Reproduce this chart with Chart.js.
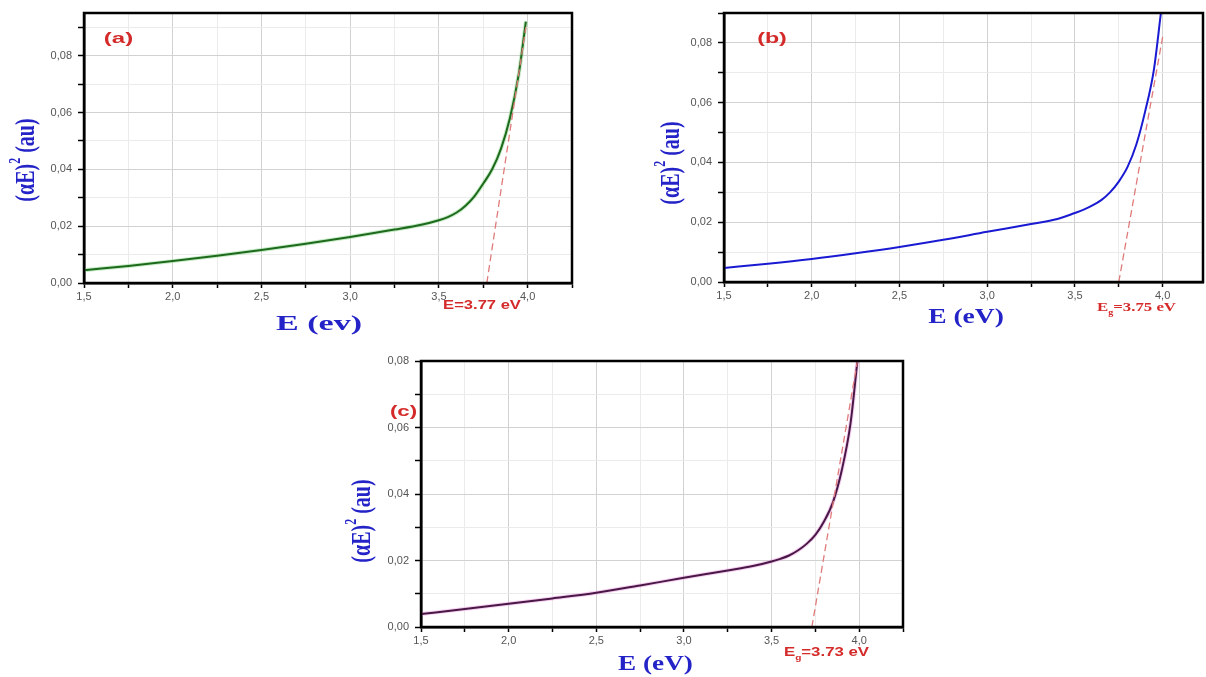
<!DOCTYPE html>
<html>
<head>
<meta charset="utf-8">
<script src="https://cdn.jsdelivr.net/npm/chart.js@4.4.0/dist/chart.umd.min.js"></script>
<style>
  body { margin: 0; background: #fff; width: 1206px; height: 677px; overflow: hidden; position: relative; }
  .panel { position: absolute; }
</style>
</head>
<body>
<div class="panel" style="left:0;top:0;width:600px;height:340px"><canvas id="chartA"></canvas></div>
<div class="panel" style="left:620px;top:0;width:586px;height:340px"><canvas id="chartB"></canvas></div>
<div class="panel" style="left:340px;top:340px;width:600px;height:337px"><canvas id="chartC"></canvas></div>
<script>
// Datos: E (eV) y (alpha E)^2 (u.a.)
const energiaA = [1.5, 1.75, 2.0, 2.25, 2.5, 2.75, 3.0, 3.25, 3.4, 3.5, 3.55, 3.6, 3.65, 3.7, 3.75, 3.8, 3.85, 3.9, 3.95, 3.99];
const alfaA = [0.0045, 0.0060, 0.0077, 0.0096, 0.0116, 0.0138, 0.0162, 0.0188, 0.0205, 0.0221, 0.0232, 0.0248, 0.0272, 0.0305, 0.0350, 0.0400, 0.0473, 0.0580, 0.0735, 0.0920];

const energiaB = [1.5, 1.75, 2.0, 2.25, 2.5, 2.75, 3.0, 3.25, 3.4, 3.5, 3.55, 3.6, 3.65, 3.7, 3.75, 3.8, 3.85, 3.9, 3.95, 3.99];
const alfaB = [0.0047, 0.0061, 0.0077, 0.0096, 0.0117, 0.0141, 0.0168, 0.0194, 0.0211, 0.0231, 0.0242, 0.0256, 0.0274, 0.0300, 0.0336, 0.0385, 0.0460, 0.0570, 0.0710, 0.0900];

const energiaC = [1.5, 1.75, 2.0, 2.25, 2.5, 2.75, 3.0, 3.25, 3.4, 3.5, 3.55, 3.6, 3.65, 3.7, 3.75, 3.8, 3.85, 3.9, 3.95, 3.99];
const alfaC = [0.0039, 0.0054, 0.0070, 0.0086, 0.0103, 0.0125, 0.0148, 0.0170, 0.0184, 0.0197, 0.0205, 0.0215, 0.0230, 0.0250, 0.0277, 0.0318, 0.0375, 0.0470, 0.0610, 0.0800];

// Rectas de extrapolacion (Eg)
const ajusteEA = [3.77, 3.99];
const ajusteYA = [0, 0.090];
const ajusteEB = [3.75, 4.0];
const ajusteYB = [0, 0.082];
const ajusteEC = [3.73, 3.99];
const ajusteYC = [0, 0.080];

// Etiquetas de los ejes
const ejeXValores = [1.5, 2.0, 2.5, 3.0, 3.5, 4.0];
const ejeXEtiquetas = ["1,5", "2,0", "2,5", "3,0", "3,5", "4,0"];
const ejeYValores = [0, 0.02, 0.04, 0.06, 0.08];
const ejeYEtiquetas = ["0,00", "0,02", "0,04", "0,06", "0,08"];

const AZUL = "#2323c8";
const ROJO = "#d42a2a";
const SERIF = "'Liberation Serif', 'DejaVu Serif', serif";
const SANS = "'Liberation Sans', Arial, sans-serif";

function buscar(valor, valores) {
  return valores.findIndex(v => Math.abs(v - valor) < 1e-6);
}

function puntos(xs, ys) {
  return xs.map((x, i) => ({ x: x, y: ys[i] }));
}

function dibujarTexto(ctx, it) {
  ctx.save();
  ctx.translate(it.x, it.y);
  ctx.scale(it.sx || 1, 1);
  if (it.rot) ctx.rotate(-Math.PI / 2);
  ctx.fillStyle = it.color;
  ctx.textBaseline = "alphabetic";
  ctx.textAlign = "left";
  let total = 0;
  const anchos = it.partes.map(p => {
    ctx.font = `bold ${it.size * (p.s || 1)}px ${it.familia}`;
    const w = ctx.measureText(p.t).width;
    total += w;
    return w;
  });
  let x = -total / 2;
  it.partes.forEach((p, i) => {
    ctx.font = `bold ${it.size * (p.s || 1)}px ${it.familia}`;
    ctx.fillText(p.t, x, it.size * 0.35 + (p.dy || 0) * it.size);
    x += anchos[i];
  });
  ctx.restore();
}

function pluginTextos(items) {
  return {
    id: "textos",
    afterDraw(chart) {
      const ctx = chart.ctx;
      const a = chart.chartArea;
      ctx.save();
      ctx.strokeStyle = "#000";
      ctx.lineWidth = 2.5;
      ctx.strokeRect(a.left, a.top, a.right - a.left, a.bottom - a.top);
      ctx.restore();
      items.forEach(it => dibujarTexto(ctx, it));
    }
  };
}

function crearPanel(id, p) {
  const datasets = [];
  if (p.halo) {
    datasets.push({
      data: puntos(p.energia, p.alfa),
      borderColor: p.halo,
      borderWidth: 4,
      pointRadius: 0,
      order: 3,
      cubicInterpolationMode: "monotone"
    });
  }
  datasets.push({
    data: puntos(p.energia, p.alfa),
    borderColor: p.color,
    borderWidth: 2,
    pointRadius: 0,
    order: 2,
    cubicInterpolationMode: "monotone"
  });
  datasets.push({
    data: puntos(p.ajusteE, p.ajusteY),
    borderColor: "#e07b7b",
    borderWidth: 1.3,
    borderDash: [7, 4],
    pointRadius: 0,
    order: 1
  });

  return new Chart(document.getElementById(id), {
    type: "scatter",
    data: { datasets: datasets },
    options: {
      responsive: true,
      maintainAspectRatio: false,
      animation: false,
      showLine: true,
      layout: { padding: p.padding },
      plugins: { legend: { display: false }, tooltip: { enabled: false } },
      scales: {
        x: {
          type: "linear",
          min: 1.5,
          max: p.xMax,
          afterFit: s => { s.height = 40; },
          ticks: {
            stepSize: 0.25,
            autoSkip: false,
            maxRotation: 0,
            includeBounds: false,
            padding: 2,
            color: "#555",
            font: { family: SANS, size: 11 },
            callback: v => { const i = buscar(v, ejeXValores); return i >= 0 ? ejeXEtiquetas[i] : ""; }
          },
          grid: {
            color: c => buscar(c.tick.value, ejeXValores) >= 0 ? "#d2d2d2" : "#ebebeb",
            lineWidth: 1,
            tickLength: 5,
            tickColor: "#000",
            tickWidth: 1.5
          },
          border: { color: "#000", width: 2.5 }
        },
        y: {
          type: "linear",
          min: 0,
          max: p.yMax,
          afterFit: s => { s.width = p.anchoY; },
          ticks: {
            stepSize: 0.01,
            includeBounds: false,
            padding: 6,
            color: "#555",
            font: { family: SANS, size: 11 },
            callback: v => { const i = buscar(v, ejeYValores); return i >= 0 ? ejeYEtiquetas[i] : ""; }
          },
          grid: {
            color: c => buscar(c.tick.value, ejeYValores) >= 0 ? "#d2d2d2" : "#ebebeb",
            lineWidth: 1,
            tickLength: 6,
            tickColor: "#000",
            tickWidth: 1.5
          },
          border: { color: "#000", width: 2.5 }
        }
      }
    },
    plugins: [pluginTextos(p.textos)]
  });
}

function tituloY(x, y, sx) {
  return {
    x: x, y: y, sx: sx, rot: true, size: 20, familia: SERIF, color: AZUL,
    partes: [{ t: "(\u03b1E)" }, { t: "2", s: 0.6, dy: -0.5 }, { t: " (au)" }]
  };
}

crearPanel("chartA", {
  energia: energiaA, alfa: alfaA, ajusteE: ajusteEA, ajusteY: ajusteYA,
  color: "#1d6a1d", halo: "rgba(130,210,130,0.45)",
  xMax: 4.25, yMax: 0.095, anchoY: 84,
  padding: { left: 0, top: 13, right: 28, bottom: 17 },
  textos: [
    { x: 118.5, y: 38, sx: 1.6, size: 15, familia: SANS, color: ROJO, partes: [{ t: "(a)" }] },
    { x: 482, y: 305, sx: 1.38, size: 12, familia: SANS, color: ROJO, partes: [{ t: "E=3.77 eV" }] },
    { x: 319, y: 323, sx: 1.7, size: 20, familia: SERIF, color: AZUL, partes: [{ t: "E (ev)" }] },
    tituloY(24, 160, 1.4)
  ]
});

crearPanel("chartB", {
  energia: energiaB, alfa: alfaB, ajusteE: ajusteEB, ajusteY: ajusteYB,
  color: "#1a1ad2", halo: null,
  xMax: 4.23, yMax: 0.09, anchoY: 104,
  padding: { left: 0, top: 13, right: 3, bottom: 18 },
  textos: [
    { x: 152, y: 38, sx: 1.55, size: 15, familia: SANS, color: ROJO, partes: [{ t: "(b)" }] },
    { x: 516.5, y: 307, sx: 1.4, size: 12, familia: SERIF, color: ROJO,
      partes: [{ t: "E" }, { t: "g", s: 0.6, dy: 0.3 }, { t: "=3.75 eV" }] },
    { x: 346, y: 315, sx: 1.25, size: 22, familia: SERIF, color: AZUL, partes: [{ t: "E (eV)" }] },
    tituloY(49, 163, 1.4)
  ]
});

crearPanel("chartC", {
  energia: energiaC, alfa: alfaC, ajusteE: ajusteEC, ajusteY: ajusteYC,
  color: "#4a1846", halo: "rgba(235,150,225,0.45)",
  xMax: 4.25, yMax: 0.08, anchoY: 81,
  padding: { left: 0, top: 21, right: 37, bottom: 10 },
  textos: [
    { x: 63.5, y: 71, sx: 1.48, size: 15, familia: SANS, color: ROJO, partes: [{ t: "(c)" }] },
    { x: 486.5, y: 312, sx: 1.4, size: 12, familia: SANS, color: ROJO,
      partes: [{ t: "E" }, { t: "g", s: 0.6, dy: 0.3 }, { t: "=3.73 eV" }] },
    { x: 315.5, y: 323, sx: 1.36, size: 20, familia: SERIF, color: AZUL, partes: [{ t: "E (eV)" }] },
    tituloY(20, 181, 1.4)
  ]
});
</script>
</body>
</html>
